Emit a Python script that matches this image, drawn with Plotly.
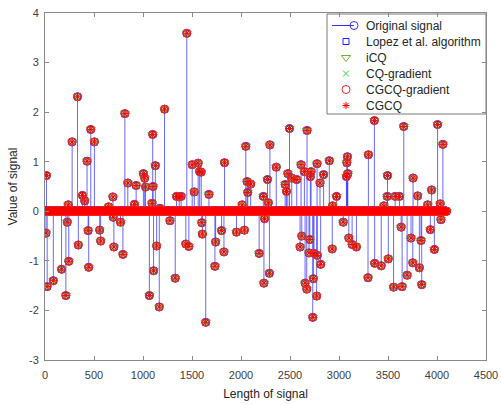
import numpy as np
import plotly.graph_objects as go

# Sparse test signal: length and non-zero entries (position, amplitude)
N = 4096
spike_index = [
    10, 15, 22, 85, 169, 213, 227, 237, 243, 277, 332, 340, 382, 405, 429, 440,
    446, 467, 504, 558, 568, 649, 693, 697, 703, 771, 795, 815, 845, 913, 930,
    1004, 1017, 1026, 1065, 1092, 1099, 1102, 1108, 1126, 1139, 1166, 1173,
    1220, 1275, 1329, 1342, 1370, 1389, 1437, 1447, 1468, 1502, 1523, 1563,
    1578, 1594, 1600, 1606, 1640, 1673, 1734, 1741, 1802, 1826, 1832, 1954,
    2012, 2035, 2049, 2062, 2069, 2099, 2185, 2228, 2234, 2241, 2270, 2279,
    2290, 2295, 2360, 2451, 2464, 2478, 2495, 2518, 2569, 2603, 2613, 2620,
    2647, 2654, 2671, 2674, 2694, 2702, 2708, 2715, 2732, 2738, 2745, 2772,
    2776, 2779, 2806, 2813, 2843, 2901, 2931, 2935, 2975, 3043, 3076, 3080,
    3086, 3090, 3100, 3134, 3178, 3296, 3300, 3361, 3364, 3431, 3458, 3492,
    3495, 3503, 3557, 3573, 3617, 3634, 3644, 3661, 3695, 3735, 3753, 3756,
    3803, 3820, 3837, 3844, 3905, 3932, 3945, 3973, 4006, 4033, 4040, 4060,
]
spike_value = [
    -0.44, 0.72, -1.52, -1.40, -1.17, -1.70, -0.22, 0.13, -1.01, 1.40, 2.31,
    -0.68, 0.32, 0.21, 1.01, -0.39, -1.13, 1.65, 1.40, -0.38, -0.60, 0.09,
    0.29, -0.12, -0.72, -0.22, -0.87, 1.97, 0.57, 0.14, 0.52, 0.76, 0.67, 0.49,
    -1.70, 0.16, 1.55, 0.50, -1.20, 0.92, -0.70, -1.93, 0.06, 2.06, -0.19,
    -1.35, 0.30, 0.29, 0.30, -0.66, 3.59, -0.71, 0.94, 0.39, 0.97, 0.80, 0.79,
    -0.23, -0.46, -2.24, 0.34, -1.11, -0.62, -0.39, -0.82, 0.98, -0.42, 0.13,
    -0.38, 1.31, 0.60, 0.38, 0.55, -0.85, 0.30, -1.45, -0.15, 0.64, 0.17,
    -1.25, 1.34, 0.89, 0.54, 0.40, 0.76, 1.67, 0.67, 0.64, -0.72, 0.94, -0.50,
    0.80, -1.45, -1.57, 1.63, -0.84, -0.57, 0.70, 0.80, -2.14, -1.36, -0.85,
    -1.71, 0.96, -0.89, 0.57, -1.07, 0.74, 1.02, -0.76, 0.11, 0.30, -0.22,
    0.70, 0.98, 1.10, 0.76, -0.54, -0.67, -0.72, -1.34, 1.14, 1.83, -1.05,
    -1.10, 0.11, 0.30, 0.72, -0.96, -1.53, 0.30, 0.30, -0.32, -1.52, 1.71,
    -1.29, -0.54, -1.04, 0.67, 0.31, -1.14, -0.59, -1.48, 0.13, -0.37, 0.43,
    -0.77, 1.75, 0.15, -0.17, 1.35,
]

x_ticks = [0, 500, 1000, 1500, 2000, 2500, 3000, 3500, 4000, 4500]
y_ticks = [-3, -2, -1, 0, 1, 2, 3, 4]
y_tick_text = ["-3", "-2", "-1", "0", "1", "2", "3", "4"]

legend_labels = ["Original signal", "Lopez et al. algorithm", "iCQ",
                 "CQ-gradient", "CGCQ-gradient", "CGCQ"]

# Full-length signal (1-based sample positions)
n = np.arange(1, N + 1)
signal = np.zeros(N)
signal[np.array(spike_index) - 1] = spike_value
# The recovered signals of every algorithm coincide with the original
recovered = signal.copy()

# Stem geometry: a vertical segment from 0 to each sample value
stem_x = np.repeat(n, 3).astype(float)
stem_x[2::3] = np.nan
stem_y = np.column_stack([np.zeros(N), signal, np.full(N, np.nan)]).ravel()

FONT = "Liberation Sans, Arial, Helvetica, sans-serif"
AXIS_GRAY = "#8a8a8a"

# Marker styles shared by the data traces and the legend keys
styles = [
    dict(symbol="circle-open", size=8, color="#3030ff"),
    dict(symbol="square-open", size=6, color="#2020ff"),
    dict(symbol="triangle-down-open", size=8, color="#77ac30"),
    dict(symbol="x-thin-open", size=6, color="#22dd22"),
    dict(symbol="circle-open", size=8, color="#ff2020"),
    dict(symbol="asterisk-open", size=6, color="#ff0000"),
]


def marker(style):
    return dict(symbol=style["symbol"], size=style["size"], color=style["color"],
                line=dict(width=1, color=style["color"]))


fig = go.Figure()

# Original signal as a stem plot
fig.add_trace(go.Scatter(
    x=stem_x, y=stem_y, mode="lines+markers", name=legend_labels[0],
    line=dict(color="rgba(40,40,255,0.7)", width=1),
    marker=marker(styles[0]), connectgaps=False, hoverinfo="skip",
))
# Recovered signals as markers at every sample
for label, style in zip(legend_labels[1:], styles[1:]):
    fig.add_trace(go.Scatter(
        x=n, y=recovered, mode="markers", name=label,
        marker=marker(style), hoverinfo="skip",
    ))

# Legend box drawn on an overlay axis measured in figure pixels
LX0, LX1, LY0, LY1 = 327, 486, 14, 114
row_y = [LY0 + 11.5 + 16.0 * i for i in range(len(legend_labels))]
key_x = 346
text_x = 364

fig.add_shape(type="rect", xref="x2", yref="y2", x0=LX0, x1=LX1, y0=LY0, y1=LY1,
              line=dict(color="#7a7a7a", width=1), fillcolor="white", layer="below")
fig.add_trace(go.Scatter(
    x=[332, 354], y=[row_y[0], row_y[0]], xaxis="x2", yaxis="y2", mode="lines",
    line=dict(color="#3030ff", width=1), hoverinfo="skip",
))
fig.add_trace(go.Scatter(
    x=[354], y=[row_y[0]], xaxis="x2", yaxis="y2", mode="markers",
    marker=marker(styles[0]), hoverinfo="skip",
))
for yy, style in zip(row_y[1:], styles[1:]):
    fig.add_trace(go.Scatter(
        x=[key_x], y=[yy], xaxis="x2", yaxis="y2", mode="markers",
        marker=marker(style), hoverinfo="skip",
    ))
for yy, label in zip(row_y, legend_labels):
    fig.add_annotation(x=text_x, y=yy, xref="x2", yref="y2", text=label,
                       showarrow=False, xanchor="left", yanchor="middle",
                       font=dict(family=FONT, size=12, color="#262626"))

axis_common = dict(
    showgrid=False, zeroline=False, showline=True, linecolor=AXIS_GRAY,
    linewidth=1, mirror="ticks", ticks="inside", ticklen=4,
    tickcolor=AXIS_GRAY, tickfont=dict(family=FONT, size=11, color="#404040"),
)
fig.update_layout(
    xaxis=dict(
        range=[0, 4500], tickvals=x_ticks, ticktext=[str(t) for t in x_ticks],
        ticklabelstandoff=5,
        title=dict(text="Length of signal",
                   font=dict(family=FONT, size=12, color="#262626"), standoff=9),
        **axis_common,
    ),
    yaxis=dict(
        range=[-3, 4], tickvals=y_ticks, ticktext=y_tick_text,
        ticklabelstandoff=3,
        title=dict(text="Value of signal",
                   font=dict(family=FONT, size=12, color="#262626"), standoff=8),
        **axis_common,
    ),
    xaxis2=dict(overlaying="x", anchor="y2", range=[45, 486], visible=False,
                fixedrange=True),
    yaxis2=dict(overlaying="y", anchor="x2", range=[360, 13], visible=False,
                fixedrange=True),
    width=501, height=405,
    margin=dict(l=45, r=15, t=13, b=45, autoexpand=False),
    plot_bgcolor="white", paper_bgcolor="white",
    font=dict(family=FONT, size=11, color="#262626"),
    showlegend=False,
)

fig.write_html("out.html")
